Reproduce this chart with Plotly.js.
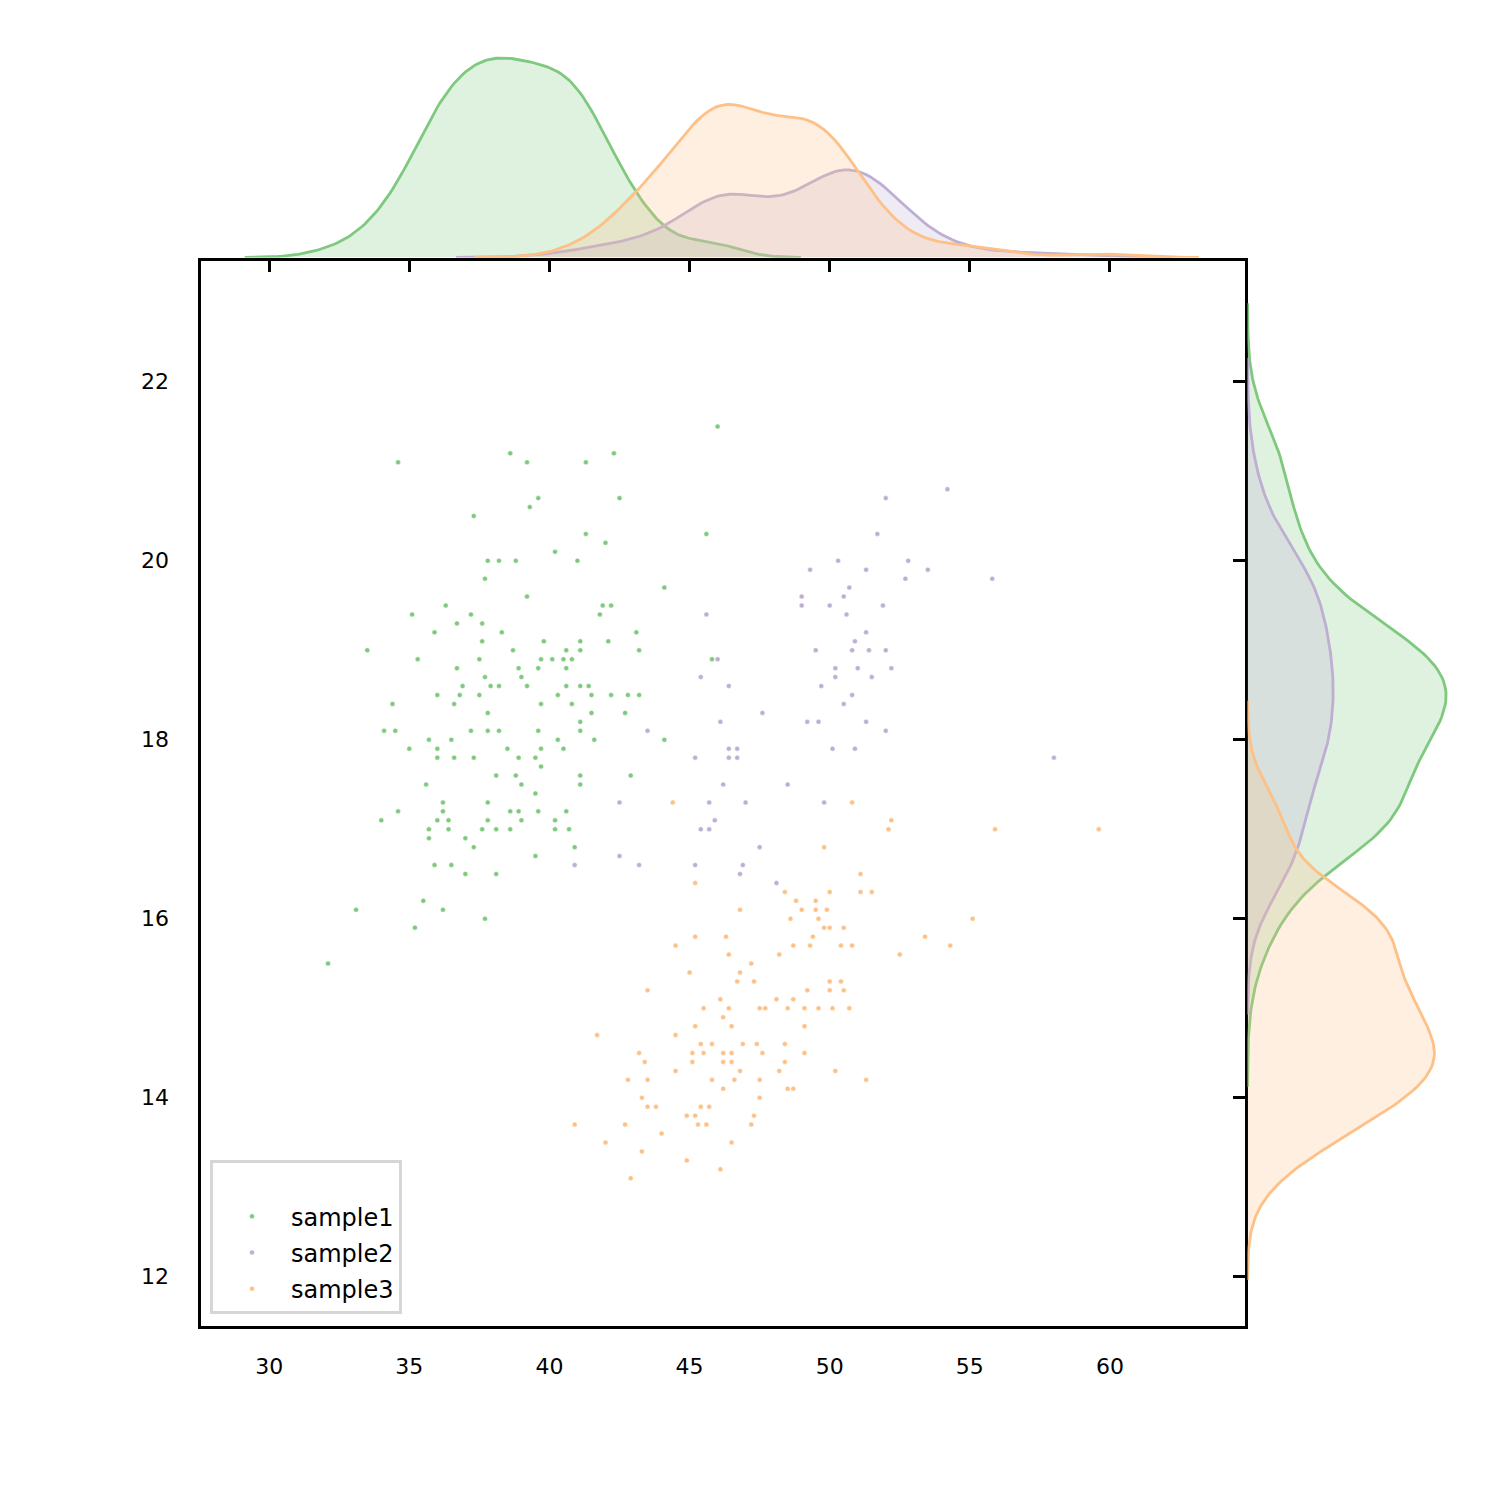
<!DOCTYPE html>
<html><head><meta charset="utf-8">
<script src="https://cdn.plot.ly/plotly-3.0.1.min.js"></script>
<style>body{margin:0;background:#fff}</style>
</head><body>
<div id="chart" style="width:1500px;height:1500px"></div>
<script>
const seriesNames = ['sample1', 'sample2', 'sample3'];
const seriesColors = ['#7fc97f', '#beaed4', '#fdc086'];

const s1x = [34.6,38.6,37.3,37.8,38.2,38.8,37.7,36.3,35.1,37.2,36.7,37.6,35.9,38.3,37.6,33.5,38.7,35.3,37.5,36.7,38.9,37.7,39.0,36.9,37.9,36.0,36.8,37.5,
39.2,41.3,42.3,39.6,39.3,42.5,41.3,42.0,40.2,41.0,44.1,39.2,42.2,41.8,43.1,39.8,41.1,42.1,40.6,41.1,43.2,39.7,40.1,40.5,40.8,39.6,40.6,39.2,40.6,41.1,41.4,40.3,41.5,42.2,42.8,43.2,
34.4,36.6,37.8,34.1,34.5,37.2,37.8,38.2,35.7,36.5,35.0,36.0,38.5,36.0,36.6,37.3,38.9,38.1,38.8,35.6,36.2,37.8,34.6,36.2,38.6,34.0,36.0,36.4,37.8,35.7,36.4,37.6,38.1,38.6,35.7,37.0,37.3,35.9,36.5,37.0,38.1,35.5,33.1,36.2,37.7,35.2,32.1,
39.7,40.8,41.5,42.7,41.1,39.6,41.1,40.3,41.6,44.1,39.7,40.5,39.5,39.7,41.1,42.9,39.0,41.1,39.5,39.6,40.6,39.0,40.2,40.2,40.7,40.9,39.5,
46.0,45.6,45.8,38.2,41.9,38.9];
const s1y = [21.1,21.2,20.5,20.0,20.0,20.0,19.8,19.5,19.4,19.4,19.3,19.3,19.2,19.2,19.1,19.0,19.0,18.9,18.9,18.8,18.8,18.7,18.7,18.6,18.6,18.5,18.5,18.5,
21.1,21.1,21.2,20.7,20.6,20.7,20.3,20.2,20.1,20.0,19.7,19.6,19.5,19.4,19.2,19.1,19.1,19.1,19.0,19.0,19.0,18.9,18.9,18.9,18.9,18.8,18.8,18.6,18.6,18.6,18.6,18.5,18.5,18.5,18.5,18.5,
18.4,18.4,18.3,18.1,18.1,18.1,18.1,18.1,18.0,18.0,17.9,17.9,17.9,17.8,17.8,17.8,17.8,17.6,17.6,17.5,17.3,17.3,17.2,17.2,17.2,17.1,17.1,17.1,17.1,17.0,17.0,17.0,17.0,17.0,16.9,16.9,16.8,16.6,16.6,16.5,16.5,16.2,16.1,16.1,16.0,15.9,15.5,
18.4,18.4,18.3,18.3,18.2,18.1,18.1,18.0,18.0,18.0,17.9,17.9,17.8,17.7,17.6,17.6,17.5,17.5,17.4,17.2,17.2,17.1,17.1,17.0,17.0,16.8,16.7,
21.5,20.3,18.9,18.6,19.5,17.2];

const s2x = [43.5,45.2,42.5,42.5,40.9,43.2,45.2,52.0,51.7,50.3,49.3,51.3,50.7,49.0,50.5,49.0,50.0,51.9,45.6,50.6,51.3,50.9,49.5,50.8,51.4,52.0,
46.0,50.2,51.0,52.2,45.4,50.2,51.5,46.4,49.7,50.8,50.5,47.6,46.1,49.2,49.6,51.3,52.0,46.7,50.1,50.9,46.4,46.2,48.5,45.7,47.0,49.8,45.9,45.7,
47.5,46.9,46.8,48.1,54.2,52.8,53.5,52.7,55.8,58.0,46.4,46.7,45.4];
const s2y = [18.1,17.8,17.3,16.7,16.6,16.6,16.6,20.7,20.3,20.0,19.9,19.9,19.7,19.6,19.6,19.5,19.5,19.5,19.4,19.4,19.2,19.1,19.0,19.0,19.0,19.0,
18.9,18.8,18.8,18.8,18.7,18.7,18.7,18.6,18.6,18.5,18.4,18.3,18.2,18.2,18.2,18.2,18.1,17.9,17.9,17.9,17.8,17.5,17.5,17.3,17.3,17.3,17.1,17.0,
16.8,16.6,16.5,16.4,20.8,20.0,19.9,19.8,19.8,17.8,17.9,17.8,17.0];

const s3x = [44.4,45.2,45.2,44.5,50.8,52.2,52.1,49.8,51.1,55.9,59.6,55.1,53.4,54.3,52.5,
46.8,46.3,46.4,47.2,45.0,46.8,46.7,47.3,43.5,46.1,45.5,46.4,47.5,46.2,45.2,46.5,41.7,44.5,45.4,45.8,46.9,47.4,43.2,45.1,45.5,46.2,46.5,47.6,
43.4,45.1,46.2,46.5,44.5,46.8,42.8,43.5,45.8,46.6,47.5,46.2,43.3,47.5,43.8,45.7,44.9,45.2,47.3,40.9,42.7,45.3,47.2,44.0,42.0,46.5,43.3,44.9,46.1,42.9,
48.4,50.0,51.1,51.5,48.8,49.5,49.0,49.5,49.9,48.6,49.6,49.8,50.5,49.4,48.7,49.3,50.4,50.8,48.2,50.0,50.4,49.2,50.0,50.5,48.1,48.7,48.5,49.1,49.6,50.1,50.7,
49.1,48.4,49.1,48.4,48.2,50.2,51.3,48.5,47.7,43.5,45.4,45.6,50.0,48.7];
const s3y = [17.3,16.4,15.8,15.7,17.3,17.1,17.0,16.8,16.5,17.0,17.0,16.0,15.8,15.7,15.6,
16.1,15.8,15.6,15.5,15.4,15.4,15.3,15.3,15.2,15.1,15.0,15.0,15.0,14.9,14.8,14.8,14.7,14.7,14.6,14.6,14.6,14.6,14.5,14.5,14.5,14.5,14.5,14.5,
14.4,14.4,14.4,14.4,14.3,14.3,14.2,14.2,14.2,14.2,14.2,14.1,14.0,14.0,13.9,13.9,13.8,13.8,13.8,13.7,13.7,13.7,13.7,13.6,13.5,13.5,13.4,13.3,13.2,13.1,
16.3,16.3,16.3,16.3,16.2,16.2,16.1,16.1,16.1,16.0,16.0,15.9,15.9,15.8,15.7,15.7,15.7,15.7,15.6,15.3,15.3,15.2,15.2,15.2,15.1,15.1,15.0,15.0,15.0,15.0,15.0,
14.8,14.6,14.5,14.4,14.3,14.3,14.2,14.1,15.0,13.9,13.9,13.7,15.9,14.1];

const xTicks = [30, 35, 40, 45, 50, 55, 60];
const yTicks = [12, 14, 16, 18, 20, 22];

const xs = [s1x, s2x, s3x];
const ys = [s1y, s2y, s3y];
const total = s1x.length + s2x.length + s3x.length;

// Gaussian KDE (Scott's rule, cut = 3 bandwidths, common normalisation)
function kde(vals, weight) {
  const n = vals.length;
  const mean = vals.reduce((a, b) => a + b, 0) / n;
  const sd = Math.sqrt(vals.reduce((a, b) => a + (b - mean) * (b - mean), 0) / (n - 1));
  const bw = sd * Math.pow(n, -1 / 5);
  const lo = Math.min(...vals) - 3 * bw, hi = Math.max(...vals) + 3 * bw;
  const grid = [], dens = [];
  for (let i = 0; i < 200; i++) {
    const g = lo + (hi - lo) * i / 199;
    let s = 0;
    for (const v of vals) { const z = (g - v) / bw; s += Math.exp(-0.5 * z * z); }
    grid.push(g);
    dens.push(weight * s / (n * bw * Math.sqrt(2 * Math.PI)));
  }
  return { grid, dens };
}

function rgba(hex, a) {
  const r = parseInt(hex.slice(1, 3), 16), g = parseInt(hex.slice(3, 5), 16), b = parseInt(hex.slice(5, 7), 16);
  return `rgba(${r},${g},${b},${a})`;
}

const traces = [];
let maxTop = 0, maxRight = 0;
const kx = [], ky = [];
for (let i = 0; i < 3; i++) {
  const w = xs[i].length / total;
  kx.push(kde(xs[i], w));
  ky.push(kde(ys[i], w));
  maxTop = Math.max(maxTop, ...kx[i].dens);
  maxRight = Math.max(maxRight, ...ky[i].dens);
}
for (let i = 0; i < 3; i++) {
  traces.push({
    type: 'scatter', mode: 'lines', x: kx[i].grid, y: kx[i].dens,
    xaxis: 'x2', yaxis: 'y2', fill: 'tozeroy', fillcolor: rgba(seriesColors[i], 0.25),
    line: { color: seriesColors[i], width: 2.8 }, showlegend: false, hoverinfo: 'skip'
  });
  traces.push({
    type: 'scatter', mode: 'lines', x: ky[i].dens, y: ky[i].grid,
    xaxis: 'x3', yaxis: 'y3', fill: 'tozerox', fillcolor: rgba(seriesColors[i], 0.25),
    line: { color: seriesColors[i], width: 2.8 }, showlegend: false, hoverinfo: 'skip'
  });
}
for (let i = 0; i < 3; i++) {
  traces.push({
    type: 'scatter', mode: 'markers', x: xs[i], y: ys[i], name: seriesNames[i],
    legendgroup: 'g' + i, xaxis: 'x', yaxis: 'y',
    marker: { color: seriesColors[i], size: 5, line: { color: '#ffffff', width: 0.5 } }
  });
}

const font = { family: 'DejaVu Sans', size: 22, color: '#000' };
const LW = 3;
const mainX = [(199 + LW / 2) / 1500, (1246 - LW / 2) / 1500];
const mainY = [1 - (1327 - LW / 2) / 1500, 1 - (259 + LW / 2) / 1500];

const layout = {
  width: 1500, height: 1500,
  margin: { l: 0, r: 0, t: 0, b: 0 },
  paper_bgcolor: '#fff', plot_bgcolor: 'rgba(0,0,0,0)',
  font: font,
  showlegend: true,
  xaxis: {
    domain: mainX, range: [27.55, 64.8], anchor: 'y',
    tickvals: xTicks, ticktext: xTicks.map(String), ticks: '', ticklabelstandoff: 19,
    showline: true, mirror: true, linecolor: '#000', linewidth: LW,
    showgrid: false, zeroline: false, tickfont: font
  },
  yaxis: {
    domain: mainY, range: [11.455, 23.355], anchor: 'x',
    tickvals: yTicks, ticktext: yTicks.map(String), ticks: '', ticklabelstandoff: 24,
    showline: true, mirror: true, linecolor: '#000', linewidth: LW,
    showgrid: false, zeroline: false, tickfont: font
  },
  xaxis2: {
    domain: mainX, range: [27.55, 64.8], anchor: 'y2',
    tickvals: xTicks, ticks: 'outside', ticklen: 13, tickwidth: 3, tickcolor: '#000',
    showticklabels: false, showline: false, showgrid: false, zeroline: false
  },
  yaxis2: {
    domain: [1 - (259 - LW / 2) / 1500, 1 - 48 / 1500], range: [0, maxTop * 1.05], anchor: 'x2',
    visible: false, showgrid: false, zeroline: false
  },
  xaxis3: {
    domain: [(1246 + LW / 2) / 1500, 1456 / 1500], range: [0, maxRight * 1.05], anchor: 'y3',
    visible: false, showgrid: false, zeroline: false
  },
  yaxis3: {
    domain: mainY, range: [11.455, 23.355], anchor: 'x3', side: 'left',
    tickvals: yTicks, ticks: 'outside', ticklen: 14, tickwidth: 3, tickcolor: '#000',
    showticklabels: false, showline: false, showgrid: false, zeroline: false
  },
  legend: {
    x: 210 / 1500, y: 1 - 1160 / 1500, xanchor: 'left', yanchor: 'top',
    bgcolor: '#fff', bordercolor: '#d6d6d6', borderwidth: 3,
    font: { family: 'DejaVu Sans', size: 24, color: '#000' },
    title: { text: '\u00a0', font: { family: 'DejaVu Sans', size: 24 } },
    tracegroupgap: 2, itemwidth: 68
  }
};

Plotly.newPlot('chart', traces, layout, { staticPlot: true, displayModeBar: false });
</script>
</body></html>
